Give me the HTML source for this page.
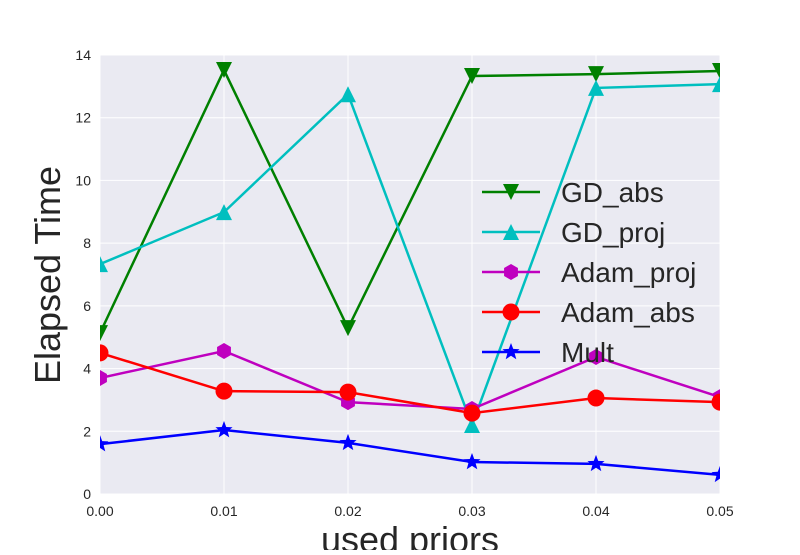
<!DOCTYPE html>
<html><head><meta charset="utf-8"><style>
body{margin:0;background:#fff;width:800px;height:550px;overflow:hidden}
text{font-family:"Liberation Sans","DejaVu Sans",sans-serif}
</style></head><body>
<svg id="chart" width="800" height="550" xmlns="http://www.w3.org/2000/svg">
<defs><clipPath id="plotclip"><rect x="100" y="55" width="620" height="439"/></clipPath></defs>
<rect x="100" y="55" width="620" height="439" fill="#eaeaf2"/>
<g id="grid"></g><g id="ticks"></g><g id="series" clip-path="url(#plotclip)"></g><g id="legend"></g>
<text x="410" y="552" text-anchor="middle" font-size="36" fill="#262626">used priors</text>
<text transform="translate(60,275) rotate(-90)" text-anchor="middle" font-size="36" fill="#262626">Elapsed Time</text>
</svg>
<script>
const xValues=[0,0.01,0.02,0.03,0.04,0.05];
const xTickLabels=["0.00","0.01","0.02","0.03","0.04","0.05"];
const yTicks=[0,2,4,6,8,10,12,14];
const seriesNames=["GD_abs","GD_proj","Adam_proj","Adam_abs","Mult"];
const gdAbs=[5.13,13.52,5.29,13.33,13.39,13.49];
const gdProj=[7.33,8.99,12.75,2.2,12.95,13.07];
const adamProj=[3.7,4.56,2.93,2.71,4.37,3.09];
const adamAbs=[4.5,3.28,3.25,2.58,3.06,2.93];
const mult=[1.59,2.04,1.63,1.02,0.96,0.61];
const NS="http://www.w3.org/2000/svg";
const X=v=>100+v/0.05*620, Y=v=>494-v/14*439;
function mk(t,a,p){const e=document.createElementNS(NS,t);for(const k in a)e.setAttribute(k,a[k]);p.appendChild(e);return e;}
const grid=document.getElementById('grid'),ticks=document.getElementById('ticks');
xValues.forEach((v,i)=>{
 const l=mk('line',{x1:X(v),x2:X(v),y1:55,y2:494,stroke:'#fff','stroke-width':1},grid);
 
 
 const t=mk('text',{x:X(v),y:516,'text-anchor':'middle','font-size':14,fill:'#262626'},ticks);t.textContent=xTickLabels[i];
 
 
});
yTicks.forEach(v=>{
 const l=mk('line',{x1:100,x2:720,y1:Y(v),y2:Y(v),stroke:'#fff','stroke-width':1},grid);
 
 
 const t=mk('text',{x:91,y:Y(v)+5,'text-anchor':'end','font-size':14,fill:'#262626'},ticks);t.textContent=v;
 
 
});
function marker(type,x,y,c,p){
 if(type==='v')return mk('polygon',{points:`${x-8},${y-8} ${x+8},${y-8} ${x},${y+8}`,fill:c},p);
 if(type==='^')return mk('polygon',{points:`${x-8},${y+8} ${x+8},${y+8} ${x},${y-8}`,fill:c},p);
 if(type==='h')return mk('polygon',{points:[0,1,2,3,4,5].map(k=>{const a=Math.PI/3*k;return (x+8*Math.sin(a))+','+(y-8*Math.cos(a))}).join(' '),fill:c},p);
 if(type==='o')return mk('circle',{cx:x,cy:y,r:8.5,fill:c},p);
 const pts=[];for(let k=0;k<10;k++){const r=k%2?3.8:9,a=Math.PI/5*k;pts.push((x+r*Math.sin(a))+','+(y-r*Math.cos(a)));}
 return mk('polygon',{points:pts.join(' '),fill:c},p);
}
const data=[gdAbs,gdProj,adamProj,adamAbs,mult];
const colors=['#008000','#00bfbf','#bf00bf','#ff0000','#0000ff'];
const markers=['v','^','h','o','*'];
const sg=document.getElementById('series'),lg=document.getElementById('legend');
data.forEach((vals,s)=>{
 const g=mk('g',{},sg);
 
 
 const pl=mk('polyline',{points:vals.map((v,i)=>X(xValues[i])+','+Y(v)).join(' '),fill:'none',stroke:colors[s],'stroke-width':2.5},g);
 
 
 vals.forEach((v,i)=>{const m=marker(markers[s],X(xValues[i]),Y(v),colors[s],g);
  
  });
 const ly=192+s*40;
 const le=mk('g',{},lg);
 
 
 mk('line',{x1:482,x2:540,y1:ly,y2:ly,stroke:colors[s],'stroke-width':2.5},le);
 marker(markers[s],511,ly,colors[s],le);
 const t=mk('text',{x:561,y:ly+10,'font-size':28,fill:'#262626'},le);t.textContent=seriesNames[s];
});
</script>
</body></html>
